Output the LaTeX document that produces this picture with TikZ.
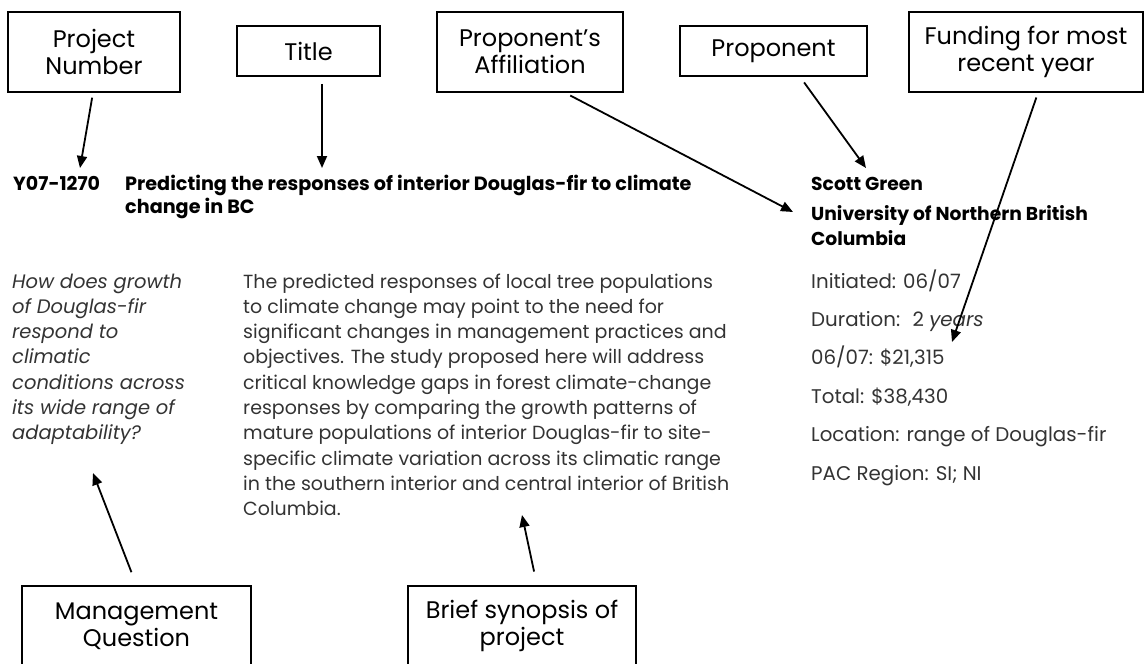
\documentclass[tikz,border=0pt]{standalone}
\usepackage{fontspec}
\setmainfont{Poppins}
\usetikzlibrary{arrows.meta}
\definecolor{bodygray}{HTML}{333333}
% lines set from the first baseline down
\newcommand{\lineset}[1]{\begin{tabular}[t]{@{}l@{}}#1\end{tabular}}

\begin{document}
\begin{tikzpicture}[x=1pt, y=-1pt,
  box/.style={draw, line width=1.5pt, inner sep=0pt, align=center, font=\fontsize{24}{27}\selectfont},
  pointer/.style={-{Triangle[length=12pt,width=10pt]}, line width=1.8pt},
  body/.style={anchor=base west, inner sep=0pt, text=bodygray, font=\fontsize{19}{25.3}\selectfont},
  head/.style={anchor=base west, inner sep=0pt, font=\fontsize{19}{25}\bfseries}]
  \useasboundingbox (0,0) rectangle (1146,664);
  \clip (0,0) rectangle (1146,664);

  % labels at the top
  \node (pnum) [box, minimum width=172pt, minimum height=80pt] at (94,52) {Project\\Number};
  \node (title) [box, minimum width=143pt, minimum height=50pt] at (308.5,51) {Title};
  \node (affil) [box, minimum width=186pt, minimum height=80pt] at (530,52) {Proponent’s\\Affiliation};
  \node (prop) [box, minimum width=187pt, minimum height=50pt] at (773.5,51) {Proponent};
  \node (fund) [box, minimum width=234pt, minimum height=80pt] at (1026,52) {Funding for most\\recent year};

  % labels at the bottom
  \node (mq) [box, minimum width=229pt, minimum height=80pt] at (136.5,626) {Management\\Question};
  \node (syn) [box, minimum width=228pt, minimum height=80pt] at (522,626) {Brief synopsis of\\project};

  % the project entry
  \node (code) [head] at (13,190) {Y07-1270};
  \node (ttl) [head, font=\fontsize{19.2}{23.5}\bfseries] at (125,190) {\lineset{Predicting the responses of interior Douglas-fir to climate\\change in BC}};
  \node (who) [head, font=\fontsize{18.7}{25}\bfseries] at (811,190) {Scott Green};
  \node (uni) [head, font=\fontsize{18.7}{25}\bfseries] at (811,220) {\lineset{University of Northern British\\Columbia}};
  \node (quest) [body, font=\fontsize{19.5}{25.3}\itshape] at (12,288) {\lineset{How does growth\\of Douglas-fir\\respond to\\climatic\\conditions across\\its wide range of\\adaptability?}};
  \node (synop) [body] at (243,288) {\lineset{The predicted responses of local tree populations\\to climate change may point to the need for\\significant changes in management practices and\\objectives. The study proposed here will address\\critical knowledge gaps in forest climate-change\\responses by comparing the growth patterns of\\mature populations of interior Douglas-fir to site-\\specific climate variation across its climatic range\\in the southern interior and central interior of British\\Columbia.}};
  \node (facts) [body, font=\fontsize{19.8}{38.4}\selectfont] at (811,288) {\lineset{Initiated: 06/07\\Duration: \ 2 \textit{years}\\06/07: \$21,315\\Total: \$38,430\\Location: range of Douglas-fir\\PAC Region: SI; NI}};

  % where the arrows point
  \coordinate (pnum-tip) at (80,168);
  \coordinate (title-tip) at (322,168);
  \coordinate (affil-tip) at (793,212);
  \coordinate (prop-tip) at (866,168);
  \coordinate (fund-tip) at (952,342);
  \coordinate (mq-tip) at (93,473);
  \coordinate (syn-tip) at (522,515);

  \draw[pointer, shorten <=5pt] ([xshift=-1pt]pnum.south) -- (pnum-tip);
  \draw[pointer, shorten <=7pt] ([xshift=13.5pt]title.south) -- (title-tip);
  \draw[pointer, shorten <=6pt] ([xshift=35pt]affil.south) -- (affil-tip);
  \draw[pointer, shorten <=7pt] ([xshift=26.5pt]prop.south) -- (prop-tip);
  \draw[pointer, shorten <=5pt] ([xshift=12pt]fund.south) -- (fund-tip);
  \draw[pointer, shorten <=14pt] (mq.north) -- (mq-tip);
  \draw[pointer, shorten <=14pt] ([xshift=15pt]syn.north) -- (syn-tip);
\end{tikzpicture}
\end{document}
